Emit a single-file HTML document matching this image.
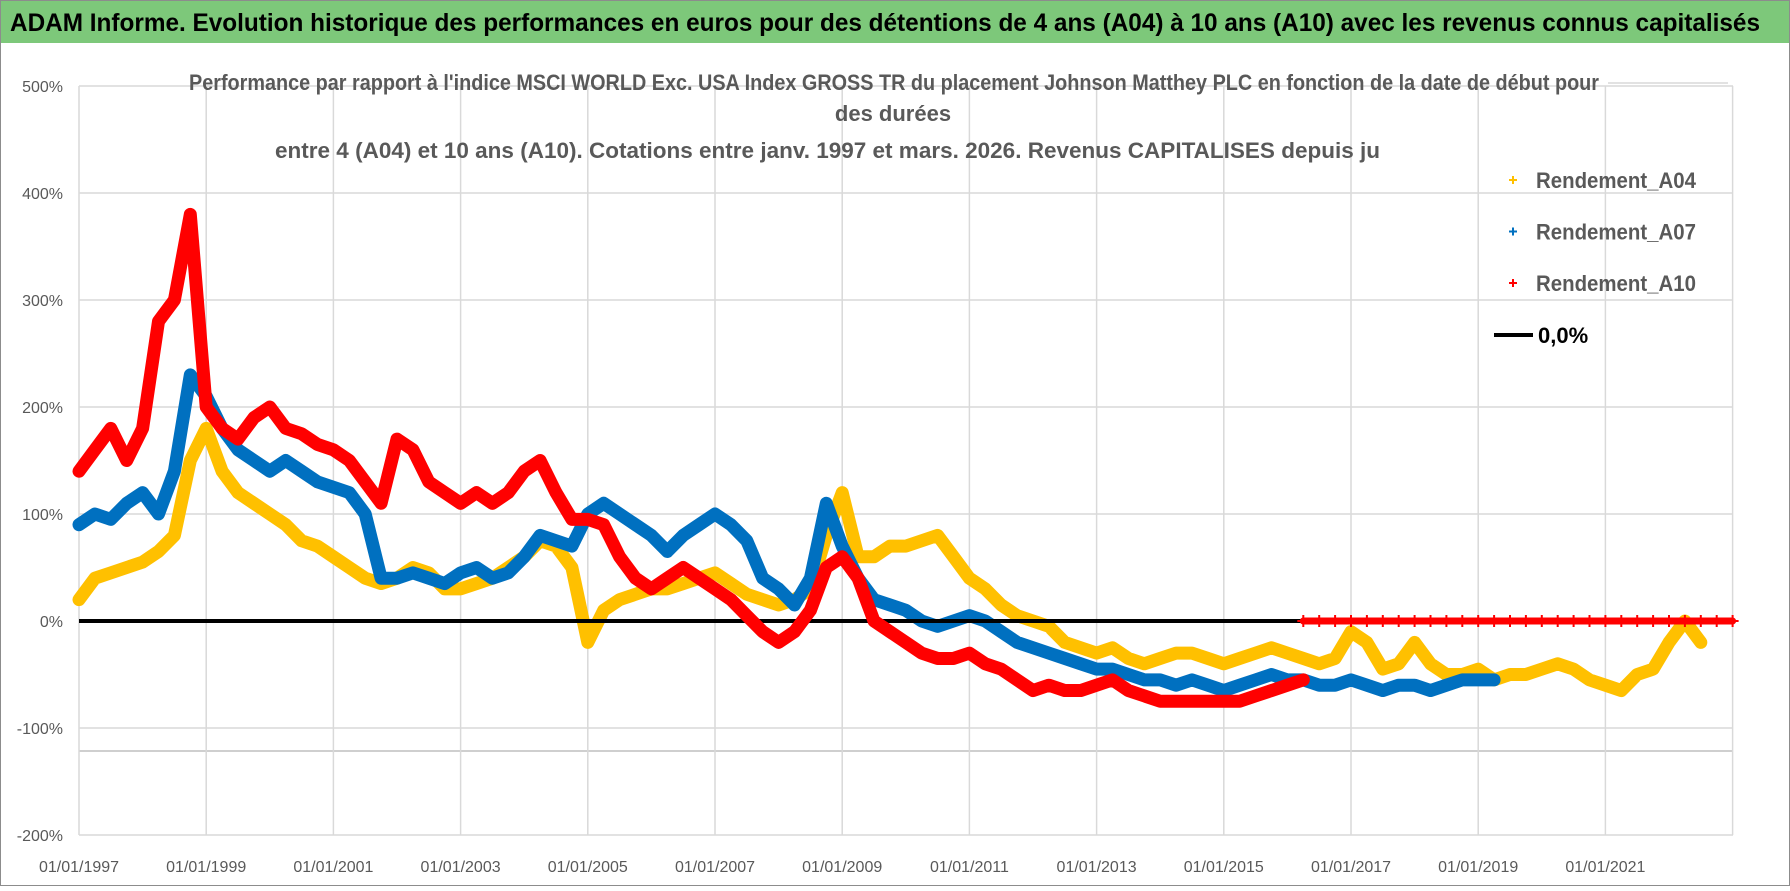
<!DOCTYPE html>
<html><head><meta charset="utf-8">
<style>
html,body{margin:0;padding:0;background:#fff;}
body{width:1790px;height:886px;overflow:hidden;font-family:"Liberation Sans",sans-serif;}
</style></head>
<body>
<svg id="chart" width="1790" height="886" xmlns="http://www.w3.org/2000/svg">
<rect x="0.5" y="0.5" width="1789" height="885" fill="#fff" stroke="#8c8c8c"/>
<rect x="1" y="1" width="1788" height="42" fill="#7dc87a"/>
<text x="10" y="31" font-size="25" font-weight="bold" fill="#000" textLength="1750" lengthAdjust="spacingAndGlyphs">ADAM Informe. Evolution historique des performances en euros pour des détentions de 4 ans (A04) à 10 ans (A10) avec les revenus connus capitalisés</text>
<g id="grid"></g>
<g id="yaxis"></g>
<g id="xaxis"></g>
<g id="series"></g>
<text x="189" y="90" font-size="22" font-weight="bold" fill="#595959" textLength="1410" lengthAdjust="spacingAndGlyphs">Performance par rapport à l'indice MSCI WORLD Exc. USA Index GROSS TR  du placement Johnson Matthey PLC en fonction de la date de début pour</text>
<line x1="1608" y1="83" x2="1728" y2="83" stroke="#d9d9d9" stroke-width="1.5"/>
<text x="893" y="121" font-size="22" font-weight="bold" fill="#595959" text-anchor="middle">des durées</text>
<text x="275" y="158" font-size="22" font-weight="bold" fill="#595959" textLength="1105" lengthAdjust="spacingAndGlyphs">entre 4 (A04) et 10 ans (A10).  Cotations entre janv. 1997 et mars. 2026.  Revenus CAPITALISES depuis ju</text>
<g id="legend"></g>
</svg>
<script>
const startYear = 1997;
const xTickLabels = ["01/01/1997","01/01/1999","01/01/2001","01/01/2003","01/01/2005","01/01/2007","01/01/2009","01/01/2011","01/01/2013","01/01/2015","01/01/2017","01/01/2019","01/01/2021"];
const xTickYears = [1997,1999,2001,2003,2005,2007,2009,2011,2013,2015,2017,2019,2021];
const yTicks = [500,400,300,200,100,0,-100,-200];
const yTickLabels = ["500%","400%","300%","200%","100%","0%","-100%","-200%"];
// quarterly values (%) starting 1997 Q1
const a04 = [20,40,45,50,55,65,80,150,180,140,120,110,100,90,75,70,60,50,40,35,40,50,45,30,30,35,40,50,60,75,70,50,-20,10,20,25,30,30,35,40,45,35,25,20,15,20,30,80,120,60,60,70,70,75,80,60,40,30,15,5,0,-5,-20,-25,-30,-25,-35,-40,-35,-30,-30,-35,-40,-35,-30,-25,-30,-35,-40,-35,-10,-20,-45,-40,-20,-40,-50,-50,-45,-55,-50,-50,-45,-40,-45,-55,-60,-65,-50,-45,-20,0,-20];
const a07 = [90,100,95,110,120,100,140,230,210,180,160,150,140,150,140,130,125,120,100,40,40,45,40,35,45,50,40,45,60,80,75,70,100,110,100,90,80,65,80,90,100,90,75,40,30,15,40,110,70,40,20,15,10,0,-5,0,5,0,-10,-20,-25,-30,-35,-40,-45,-45,-50,-55,-55,-60,-55,-60,-65,-60,-55,-50,-55,-55,-60,-60,-55,-60,-65,-60,-60,-65,-60,-55,-55,-55];
const a10 = [140,160,180,150,180,280,300,380,200,180,170,190,200,180,175,165,160,150,130,110,170,160,130,120,110,120,110,120,140,150,120,95,95,90,60,40,30,40,50,40,30,20,5,-10,-20,-10,10,50,60,40,0,-10,-20,-30,-35,-35,-30,-40,-45,-55,-65,-60,-65,-65,-60,-55,-65,-70,-75,-75,-75,-75,-75,-75,-70,-65,-60,-55];
// A10 values after mid-2016 (quarterly from 2016.25)
const a10StartTail = 2016.25;
const a10Tail = [0,0,0,0,0,0,0,0,0,0,0,0,0,0,0,0,0,0,0,0,0,0,0,0,0,0,0,0];
const seriesNames = ["Rendement_A04","Rendement_A07","Rendement_A10"];

const X0=79, X1=1733, Y0=621, PX=107;
const xs = t => X0 + (t-1997)*63.6;
const ys = v => Y0 - v*PX/100;
const NS="http://www.w3.org/2000/svg";
function mk(tag, attrs, parent){const e=document.createElementNS(NS,tag);for(const k in attrs)e.setAttribute(k,attrs[k]);parent.appendChild(e);return e;}

const grid=document.getElementById('grid');
yTicks.forEach((v,i)=>{
  const l=mk('line',{x1:X0,x2:X1,y1:ys(v),y2:ys(v),stroke:'#d9d9d9','stroke-width':1.5},grid);
  
  
  const t=mk('text',{x:63,y:ys(v)+6,'font-size':16,fill:'#595959','text-anchor':'end'},document.getElementById('yaxis'));
  t.textContent=yTickLabels[i];
  
  
});
const extra=mk('line',{x1:X0,x2:X1,y1:751,y2:751,stroke:'#bfbfbf','stroke-width':1.5},grid);


xTickYears.concat([2023]).forEach(y=>{
  const l=mk('line',{x1:xs(y),x2:xs(y),y1:ys(500),y2:ys(-200),stroke:'#d9d9d9','stroke-width':1.5},grid);
  
  
});
xTickYears.forEach((y,i)=>{
  const t=mk('text',{x:xs(y),y:872,'font-size':16,fill:'#595959','text-anchor':'middle'},document.getElementById('xaxis'));
  t.textContent=xTickLabels[i];
  
  
});

const sg=document.getElementById('series');
function plusPath(x,y,s){return `M${x-s},${y}H${x+s}M${x},${y-s}V${y+s}`;}
function drawSeries(vals,start,color,name,width){
  const g=mk('g',{},sg);
  
  
  const pts=vals.map((v,i)=>[xs(start+i/4),ys(v)]);
  const pl=mk('polyline',{points:pts.map(p=>p.join(',')).join(' '),fill:'none',stroke:color,'stroke-width':width,'stroke-linejoin':'round','stroke-linecap':'round'},g);
  
  
  let d='';
  pts.forEach(p=>{d+=plusPath(p[0],p[1],6);});
  const m=mk('path',{d:d,stroke:color,'stroke-width':2,fill:'none'},g);
  
  
}
drawSeries(a04,startYear,'#ffc000','series-a04',13);
drawSeries(a07,startYear,'#0070c0','series-a07',13);
const zl=mk('line',{x1:X0,x2:X1,y1:ys(0),y2:ys(0),stroke:'#000','stroke-width':4},sg);


drawSeries(a10,startYear,'#ff0000','series-a10',13);
drawSeries(a10Tail,a10StartTail,'#ff0000','series-a10-tail',7);

const lg=document.getElementById('legend');
const lcol=['#ffc000','#0070c0','#ff0000'];
seriesNames.forEach((n,i)=>{
  const y=180+i*51.5;
  const p=mk('path',{d:plusPath(1513,y,4),stroke:lcol[i],'stroke-width':2},lg);
  
  
  const t=mk('text',{x:1536,y:y+8,'font-size':22,'font-weight':'bold',fill:'#595959',textLength:160,lengthAdjust:'spacingAndGlyphs'},lg);
  t.textContent=n;
  
  
});
const ll=mk('line',{x1:1494,x2:1533,y1:335,y2:335,stroke:'#000','stroke-width':4},lg);


const lt=mk('text',{x:1538,y:343,'font-size':22,'font-weight':'bold',fill:'#000'},lg);
lt.textContent='0,0%';


</script>
</body></html>
